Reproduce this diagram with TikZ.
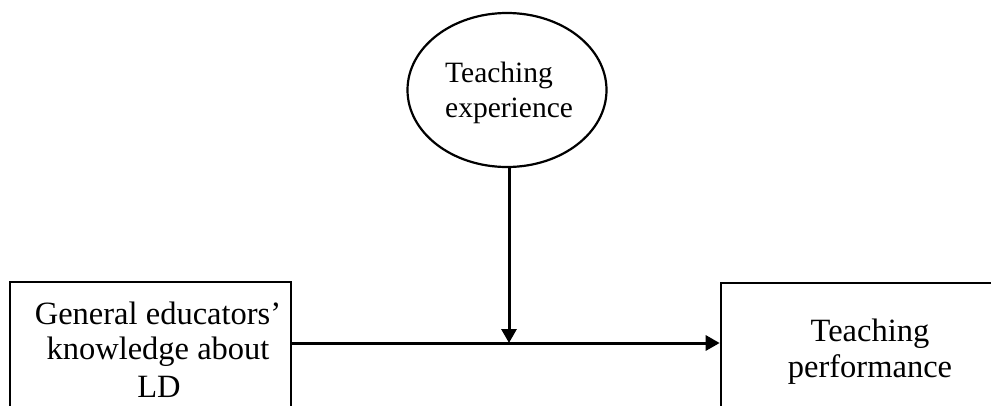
\documentclass[tikz,border=0pt]{standalone}
\usepackage{fontspec}
\setmainfont{Liberation Serif}
\usetikzlibrary{arrows.meta,shapes.geometric}
\begin{document}
\begin{tikzpicture}[x=1pt,y=-1pt,
  boxstyle/.style={draw,line width=2.6pt,rectangle,inner sep=0pt},
  txt/.style={font=\fontsize{32.5}{36}\selectfont,align=center,inner sep=0pt},
  arr/.style={line width=3pt,-{Triangle[length=14pt,width=15pt]}}]
\useasboundingbox (0,0) rectangle (991,405);
\node[boxstyle,minimum width=281pt,minimum height=200pt] (lbox) at (150.5,382) {};
\node[boxstyle,minimum width=300pt,minimum height=200pt] (rbox) at (871,383) {};
\node[draw,ellipse,line width=2.2pt,minimum width=199pt,minimum height=154pt,inner sep=0pt] (ell) at (507,90) {};
\node[txt,anchor=base] (lt1) at (158,324) {General educators’};
\node[txt,anchor=base] (lt2) at (158,359) {knowledge about};
\node[txt,anchor=base] (lt3) at (159,397) {LD};
\node[txt,anchor=base] (rt1) at (870,341) {Teaching};
\node[txt,anchor=base] (rt2) at (870,377) {performance};
\node[txt,font=\fontsize{29.5}{35}\selectfont,anchor=base west] (et1) at (445,82) {Teaching};
\node[txt,font=\fontsize{29.5}{35}\selectfont,anchor=base west] (et2) at (445,117) {experience};
\coordinate (j) at (509,343);
\coordinate (es) at (509,166);
\draw[arr] (lbox.north east |- j) -- (rbox.north west |- j);
\draw[arr] (es) -- (j);
\end{tikzpicture}
\end{document}
